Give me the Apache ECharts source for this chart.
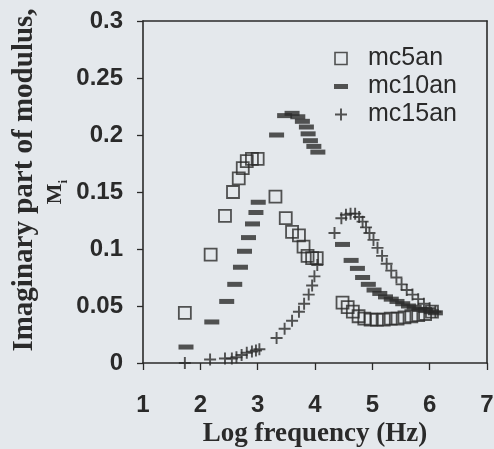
<!DOCTYPE html>
<html>
<head>
<meta charset="utf-8">
<script src="https://cdn.jsdelivr.net/npm/echarts@6/dist/echarts.min.js"></script>
<style>
  html, body { margin: 0; padding: 0; background: #e4e8ec; }
  #chart { width: 494px; height: 449px; }
</style>
</head>
<body>
<div id="chart"></div>
<script>
// log frequency / M'' readings for the three samples
const mc5anX = [1.73, 2.18, 2.43, 2.57, 2.67, 2.74, 2.81, 2.9, 3.0, 3.31, 3.49, 3.6, 3.72, 3.8, 3.87, 3.95, 4.03,
  4.48, 4.57, 4.66, 4.76, 4.86, 4.97, 5.08, 5.2, 5.32, 5.44, 5.56, 5.68, 5.8, 5.92, 6.04];
const mc5anY = [0.044, 0.095, 0.129, 0.15, 0.162, 0.171, 0.177, 0.179, 0.179, 0.146, 0.127, 0.115, 0.112, 0.102, 0.094, 0.092, 0.092,
  0.053, 0.049, 0.045, 0.041, 0.039, 0.038, 0.038, 0.038, 0.039, 0.039, 0.04, 0.041, 0.042, 0.043, 0.045];

const mc10anX = [1.75, 2.2, 2.46, 2.6, 2.7, 2.77, 2.84, 2.91, 2.97, 3.01, 3.33, 3.47, 3.6, 3.7, 3.78, 3.85, 3.88, 3.92, 3.98, 4.05,
  4.48, 4.63, 4.74, 4.83, 4.93, 5.03, 5.13, 5.23, 5.33, 5.43, 5.53, 5.63, 5.73, 5.83, 5.93, 6.03, 6.1];
const mc10anY = [0.014, 0.036, 0.054, 0.069, 0.084, 0.098, 0.11, 0.122, 0.132, 0.141, 0.2, 0.217, 0.219, 0.216, 0.212, 0.207, 0.201, 0.195, 0.19, 0.185,
  0.104, 0.09, 0.083, 0.075, 0.069, 0.064, 0.061, 0.058, 0.056, 0.054, 0.052, 0.05, 0.049, 0.047, 0.046, 0.045, 0.044];

const mc15anX = [1.73, 2.17, 2.43, 2.55, 2.63, 2.72, 2.81, 2.9, 2.97, 3.03, 3.33, 3.47, 3.6, 3.72, 3.81, 3.89, 3.95, 3.99, 4.04,
  4.34, 4.46, 4.54, 4.62, 4.7, 4.77, 4.83, 4.89, 4.95, 5.02, 5.09, 5.17, 5.25, 5.33, 5.42, 5.51, 5.6, 5.7, 5.8, 5.9, 6.0, 6.1];
const mc15anY = [0.0, 0.003, 0.004, 0.004, 0.005, 0.007, 0.009, 0.01, 0.011, 0.012, 0.022, 0.03, 0.037, 0.045, 0.052, 0.06, 0.068, 0.076, 0.086,
  0.114, 0.127, 0.13, 0.131, 0.131, 0.128, 0.124, 0.119, 0.114, 0.108, 0.101, 0.094, 0.087, 0.081, 0.075, 0.069, 0.064, 0.06, 0.056, 0.052, 0.048, 0.045];

const ink = '#2a2a2a'
const plusPath = 'path://M4.2,0h1.6v4.2h4.2v1.6h-4.2v4.2h-1.6v-4.2h-4.2v-1.6h4.2z'
const squarePath = 'path://M0,0H10V10H0Z'
const dashPath = 'path://M0,0H14V5H0Z'

const pairs = (xs, ys) => xs.map((x, i) => [x, ys[i]])

const frameAxis = { show: true, onZero: false, lineStyle: { color: ink, width: 1.6 } }

const chart = echarts.init(document.getElementById('chart'))
chart.setOption({
  backgroundColor: '#e4e8ec',
  animation: false,
  grid: { left: 143, right: 7, top: 21, bottom: 86, outerBoundsMode: 'none' },
  legend: {
    orient: 'vertical',
    left: 329,
    top: 41,
    itemWidth: 14,
    itemHeight: 12,
    itemGap: 3,
    selectedMode: false,
    textStyle: { fontFamily: 'Liberation Sans', fontSize: 25, color: ink, padding: [0, 0, 0, 15] },
    data: [
      { name: 'mc5an', icon: squarePath, itemStyle: { color: 'transparent', borderColor: ink, borderWidth: 1.6 } },
      { name: 'mc10an', icon: dashPath, itemStyle: { color: ink } },
      { name: 'mc15an', icon: plusPath, itemStyle: { color: ink } }
    ]
  },
  xAxis: [{
    type: 'value',
    min: 1, max: 7, interval: 1,
    name: 'Log frequency (Hz)',
    nameLocation: 'middle',
    nameGap: 58,
    nameMoveOverlap: false,
    nameTextStyle: { fontFamily: 'Liberation Serif', fontWeight: 'bold', fontSize: 27, color: ink },
    axisLine: frameAxis,
    axisTick: { inside: false, length: 7, lineStyle: { color: ink, width: 1.3 } },
    axisLabel: { margin: 30, fontFamily: 'Liberation Sans', fontWeight: 'bold', fontSize: 24, color: ink },
    splitLine: { show: false }
  }, {
    // top frame line
    type: 'value', position: 'top', min: 1, max: 7,
    axisLine: frameAxis,
    axisTick: { show: false }, axisLabel: { show: false }, splitLine: { show: false }
  }],
  yAxis: [{
    type: 'value',
    min: 0, max: 0.3, interval: 0.05,
    name: '{a|Imaginary part of modulus,}\n{m|M}{s|i}',
    nameLocation: 'middle',
    nameRotate: 90,
    nameGap: 73,
    nameMoveOverlap: false,
    nameTextStyle: {
      color: ink,
      rich: {
        a: { fontFamily: 'Liberation Serif', fontWeight: 'bold', fontSize: 29, lineHeight: 30, padding: [0, 0, 0, 24] },
        m: { fontFamily: 'Liberation Serif', fontWeight: 'bold', fontSize: 22, lineHeight: 30 },
        s: { fontFamily: 'Liberation Serif', fontWeight: 'bold', fontSize: 13, lineHeight: 30, verticalAlign: 'bottom' }
      }
    },
    axisLine: frameAxis,
    axisTick: { show: true, inside: false, length: 6, lineStyle: { color: ink, width: 1.3 } },
    axisLabel: { margin: 20, fontFamily: 'Liberation Sans', fontWeight: 'bold', fontSize: 24, color: ink },
    splitLine: { show: false }
  }, {
    // right frame line
    type: 'value', position: 'right', min: 0, max: 0.3,
    axisLine: frameAxis,
    axisTick: { show: false }, axisLabel: { show: false }, splitLine: { show: false }
  }],
  series: [
    {
      name: 'mc5an', type: 'scatter',
      data: pairs(mc5anX, mc5anY),
      symbol: 'rect', symbolSize: 12,
      itemStyle: { color: 'transparent', borderColor: ink, borderWidth: 1.8 }
    },
    {
      name: 'mc10an', type: 'scatter',
      data: pairs(mc10anX, mc10anY),
      symbol: 'rect', symbolSize: [15, 5],
      itemStyle: { color: ink }
    },
    {
      name: 'mc15an', type: 'scatter',
      data: pairs(mc15anX, mc15anY),
      symbol: plusPath, symbolSize: 12,
      itemStyle: { color: ink }
    }
  ]
})
</script>
</body>
</html>
